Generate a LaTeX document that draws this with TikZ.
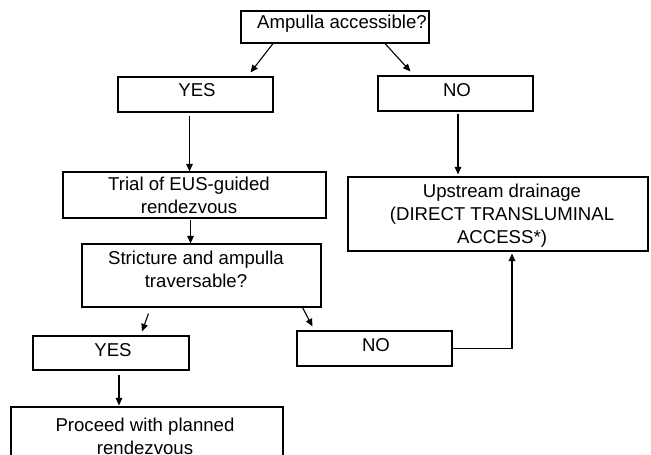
\documentclass[tikz,border=0pt]{standalone}
\usepackage{fontspec}
\setmainfont{Liberation Sans}
\usetikzlibrary{arrows.meta}
\begin{document}
\begin{tikzpicture}[x=1pt,y=1pt,
  box/.style={draw, line width=1.1pt, inner sep=0pt},
  txt/.style={inner sep=0pt, align=center, font=\fontsize{18.6}{23}\selectfont},
  arr/.style={line width=1.1pt, -{Triangle[length=7.5pt,width=6.5pt]}},
  ln/.style={line width=1.1pt}]
\useasboundingbox (0,0) rectangle (651,-455);
\clip (0,0) rectangle (651,-455);
% boxes
\node[box, minimum width=188pt, minimum height=32pt] (top) at (335,-27) {};
\node[box, minimum width=155pt, minimum height=35pt] (yes1) at (195.5,-94.5) {};
\node[box, minimum width=155pt, minimum height=35pt] (no1) at (455.5,-93.5) {};
\node[box, minimum width=263pt, minimum height=46pt] (trial) at (194.5,-195) {};
\node[box, minimum width=239pt, minimum height=63pt] (strict) at (201.5,-275.5) {};
\node[box, minimum width=300pt, minimum height=74pt] (up) at (498,-214) {};
\node[box, minimum width=156pt, minimum height=34pt] (yes2) at (111,-353) {};
\node[box, minimum width=155pt, minimum height=35pt] (no2) at (374.5,-348.5) {};
\node[box, minimum width=272pt, minimum height=60pt] (proc) at (147,-437) {};
% texts
\node[txt] (topT) at (342,-24) {Ampulla accessible?};
\node[txt] (yes1T) at (197,-90.5) {YES};
\node[txt] (no1T) at (457,-90) {NO};
\node[txt] (trialT) at (189,-195) {Trial of EUS-guided\\rendezvous};
\node[txt] (strictT) at (196,-269) {Stricture and ampulla\\traversable?};
\node[txt] (upT) at (502,-216) {Upstream drainage\\(DIRECT TRANSLUMINAL\\ACCESS*)};
\node[txt] (yes2T) at (113,-350) {YES};
\node[txt] (no2T) at (376,-345.5) {NO};
\node[txt] (procT) at (145,-436) {Proceed with planned\\rendezvous};
% connectors
\coordinate (turn) at (512,-348.5);
\draw[arr] ([xshift=-62pt]top.south) -- ([xshift=55pt,yshift=4pt]yes1.north);
\draw[arr] ([xshift=50pt]top.south) -- ([xshift=-45pt,yshift=4pt]no1.north);
\draw[arr] ([xshift=-6pt,yshift=-3pt]yes1.south) -- ([xshift=-5pt]trial.north);
\draw[arr] ([xshift=-4pt,yshift=-1pt]trial.south) -- ([xshift=-11pt]strict.north);
\draw[arr] ([xshift=2.5pt,yshift=-2pt]no1.south) -- ([xshift=-40pt,yshift=2pt]up.north);
\draw[arr] ([xshift=-53pt,yshift=-6pt]strict.south) -- ([xshift=31pt,yshift=4pt]yes2.north);
\draw[arr] ([xshift=101pt]strict.south) -- ([xshift=-62pt,yshift=4pt]no2.north);
\draw[arr] ([xshift=8pt,yshift=-4pt]yes2.south) -- ([xshift=-28pt,yshift=1pt]proc.north);
\draw[ln] (no2.east) -- (turn);
\draw[arr] (turn) -- ([xshift=14pt,yshift=-2pt]up.south);
\end{tikzpicture}
\end{document}
